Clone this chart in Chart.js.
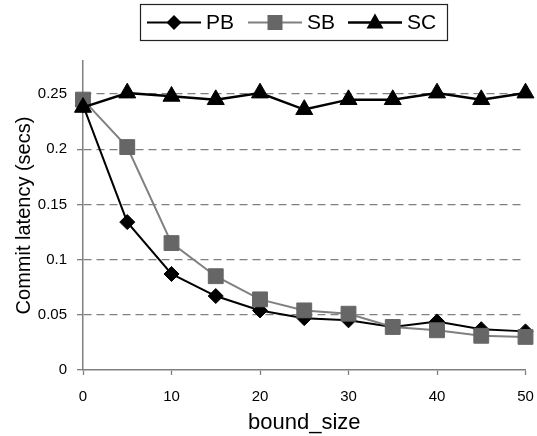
<!DOCTYPE html>
<html><head><meta charset="utf-8">
<script src="https://cdn.jsdelivr.net/npm/chart.js@4/dist/chart.umd.min.js"></script>
<style>html,body{margin:0;padding:0;background:#fff}#wrap{position:relative;width:537px;height:436px}</style>
</head><body><div id="wrap"><canvas id="c" width="537" height="436"></canvas></div>
<script>
const boundSize = [0, 5, 10, 15, 20, 25, 30, 35, 40, 45, 50];
const pbValues = [0.240, 0.134, 0.087, 0.067, 0.054, 0.047, 0.045, 0.039, 0.044, 0.037, 0.035];
const sbValues = [0.245, 0.202, 0.115, 0.085, 0.064, 0.054, 0.051, 0.039, 0.036, 0.031, 0.030];
const scValues = [0.238, 0.251, 0.248, 0.245, 0.251, 0.236, 0.245, 0.245, 0.251, 0.245, 0.251];
const yTicks = [0, 0.05, 0.1, 0.15, 0.2, 0.25];
const xTicks = [0, 10, 20, 30, 40, 50];
const seriesNames = ['PB', 'SB', 'SC'];

const FONT = "'Liberation Sans', Arial, Helvetica, sans-serif";
const toPts = vals => boundSize.map((x, i) => ({x: x, y: vals[i]}));

function drawMarker(ctx, style, x, y, fill) {
  ctx.fillStyle = fill;
  ctx.beginPath();
  if (style === 'diamond') {
    ctx.moveTo(x, y - 7.5); ctx.lineTo(x + 7.5, y); ctx.lineTo(x, y + 7.5); ctx.lineTo(x - 7.5, y);
  } else if (style === 'square') {
    ctx.rect(x - 7.5, y - 7.5, 15, 15);
  } else {
    ctx.moveTo(x, y - 9); ctx.lineTo(x + 8.5, y + 6); ctx.lineTo(x - 8.5, y + 6);
  }
  ctx.closePath();
  ctx.fill();
}

const boxLegend = {
  id: 'boxLegend',
  afterDraw(chart) {
    const ctx = chart.ctx;
    ctx.save();
    ctx.strokeStyle = '#222';
    ctx.lineWidth = 1.2;
    ctx.strokeRect(140.5, 4.5, 307, 36);
    const items = [
      {name: seriesNames[0], x: 147, color: '#000', w: 2, m: 'diamond', mc: '#000'},
      {name: seriesNames[1], x: 248, color: '#808080', w: 2, m: 'square', mc: '#666'},
      {name: seriesNames[2], x: 348, color: '#000', w: 2.5, m: 'triangle', mc: '#000'}
    ];
    const cy = 22.5;
    items.forEach(it => {
      ctx.strokeStyle = it.color;
      ctx.lineWidth = it.w;
      ctx.beginPath();
      ctx.moveTo(it.x, cy); ctx.lineTo(it.x + 54, cy);
      ctx.stroke();
      drawMarker(ctx, it.m, it.x + 27, cy, it.mc);
      ctx.fillStyle = '#000';
      ctx.font = '21px ' + FONT;
      ctx.textBaseline = 'middle';
      ctx.textAlign = 'left';
      ctx.fillText(it.name, it.x + 59, cy + 1);
    });
    ctx.restore();
  }
};

new Chart(document.getElementById('c'), {
  type: 'line',
  data: {
    datasets: [
      {label: seriesNames[0], data: toPts(pbValues), borderColor: '#000', borderWidth: 2,
       pointStyle: 'rectRot', pointRadius: 7.5, pointBackgroundColor: '#000', pointBorderColor: '#000',
       pointBorderWidth: 1, order: 3, clip: false},
      {label: seriesNames[1], data: toPts(sbValues), borderColor: '#808080', borderWidth: 2,
       pointStyle: 'rect', pointRadius: 10.5, pointBackgroundColor: '#666', pointBorderColor: '#666',
       pointBorderWidth: 1, order: 2, clip: false},
      {label: seriesNames[2], data: toPts(scValues), borderColor: '#000', borderWidth: 2.5,
       pointStyle: 'triangle', pointRadius: 9.8, pointBackgroundColor: '#000', pointBorderColor: '#000',
       pointBorderWidth: 1, order: 1, clip: false}
    ]
  },
  options: {
    responsive: false,
    animation: false,
    devicePixelRatio: 1,
    layout: {padding: {top: 61, right: 10, left: 0, bottom: 0}},
    elements: {line: {tension: 0}},
    plugins: {legend: {display: false}, tooltip: {enabled: false}},
    scales: {
      x: {
        type: 'linear', min: 0, max: 50,
        afterBuildTicks: s => { s.ticks = xTicks.map(v => ({value: v})); },
        afterFit: s => { s.height = 66; s.paddingRight = 9; s.paddingLeft = 5; },
        ticks: {font: {size: 15, family: FONT}, color: '#000', padding: 13, maxRotation: 0},
        grid: {drawOnChartArea: false, drawTicks: true, tickLength: 5, tickColor: '#808080', tickWidth: 1.3},
        border: {color: '#808080', width: 1.5},
        title: {display: true, text: 'bound_size', font: {size: 22, family: FONT}, color: '#000',
                padding: {top: 0, bottom: 0}}
      },
      y: {
        type: 'linear', min: 0, max: 0.28,
        afterBuildTicks: s => { s.ticks = yTicks.map(v => ({value: v})); },
        afterFit: s => { s.width = 83; },
        ticks: {font: {size: 15, family: FONT}, color: '#000', padding: 10,
                callback: v => String(v)},
        grid: {color: c => (c.tick && c.tick.value === 0) ? 'rgba(0,0,0,0)' : '#808080',
               lineWidth: 1.3, tickLength: 6, tickColor: '#808080', tickWidth: 1.3, tickBorderDash: []},
        border: {color: '#808080', width: 1.5, dash: [8, 5]},
        title: {display: true, text: 'Commit latency (secs)', font: {size: 20, family: FONT}, color: '#000',
                padding: {top: 12, bottom: 0}}
      }
    }
  },
  plugins: [boxLegend]
});
</script></body></html>
